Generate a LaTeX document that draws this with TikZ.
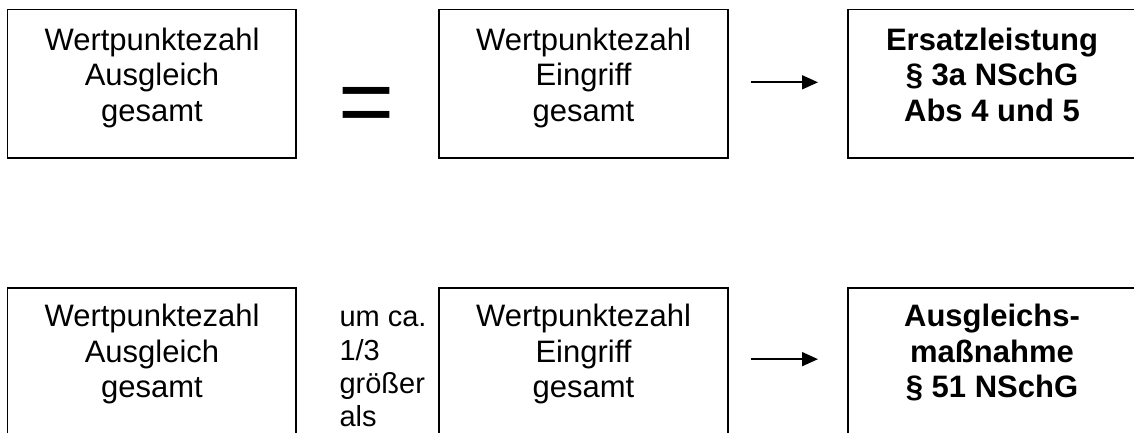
\documentclass[tikz,border=0pt]{standalone}
\usepackage{fontspec}
\setmainfont{Liberation Sans}
\usetikzlibrary{arrows.meta}
\begin{document}
\begin{tikzpicture}[x=1pt,y=-1pt,
  box/.style={rectangle, draw=black, line width=1.5pt, minimum height=148.7pt,
    inner sep=0pt, outer sep=0pt, anchor=north west},
  txt/.style={align=center, font=\fontsize{31}{35.6}\selectfont, inner sep=0pt, anchor=base},
  btxt/.style={txt, font=\fontsize{31}{35.6}\selectfont\bfseries},
  arr/.style={line width=1.7pt, -{Triangle[length=16pt,width=14pt]},
    shorten <=23pt, shorten >=30pt}]
\useasboundingbox (0,0) rectangle (1134,432);
\clip (0,0) rectangle (1134,432);
% top row (text nodes are placed at the baseline of their last line)
\node[box, minimum width=288.5pt] (L1) at (7.5,9.3) {};
\node[box, minimum width=289pt] (M1) at (439,9.3) {};
\node[box, minimum width=288pt] (R1) at (848,9.3) {};
\node[txt] (tL1) at (152,121.2) {Wertpunktezahl\\Ausgleich\\gesamt};
\node[inner sep=0pt, anchor=base, font=\fontsize{96}{110}\selectfont] (eq) at (367,134.8) {=};
\node[txt] (tM1) at (583.5,121.2) {Wertpunktezahl\\Eingriff\\gesamt};
\node[btxt] (tR1) at (992,121.2) {Ersatzleistung\\§ 3a NSchG\\Abs 4 und 5};
\draw[arr] ([yshift=1.35pt]M1.east) -- ([yshift=1.35pt]R1.west);
% bottom row
\node[box, minimum width=288.5pt] (L2) at (7.5,288) {};
\node[box, minimum width=289pt] (M2) at (439,288) {};
\node[box, minimum width=288pt] (R2) at (848,288) {};
\node[txt] (tL2) at (152,397.9) {Wertpunktezahl\\Ausgleich\\gesamt};
\node[inner sep=0pt, anchor=base west, align=left, font=\fontsize{29}{33.4}\selectfont] (um) at (339.3,426.9) {um ca.\\1/3\\größer\\als};
\node[txt] (tM2) at (583.5,397.9) {Wertpunktezahl\\Eingriff\\gesamt};
\node[btxt] (tR2) at (992,397.9) {Ausgleichs-\\maßnahme\\§ 51 NSchG};
\draw[arr] ([yshift=3.2pt]M2.east) -- ([yshift=3.2pt]R2.west);
\end{tikzpicture}
\end{document}
